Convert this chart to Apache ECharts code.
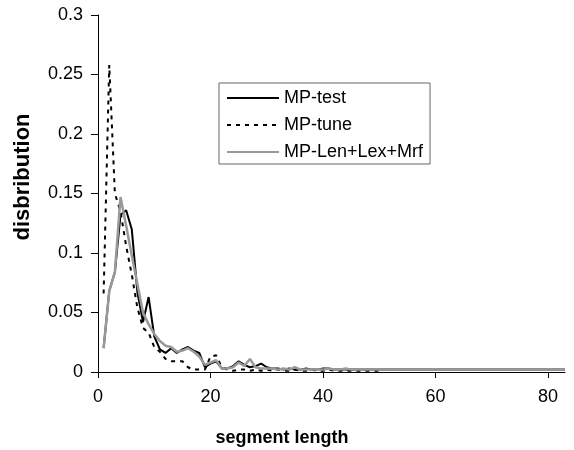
<!DOCTYPE html>
<html>
<head>
<meta charset="utf-8">
<script src="https://cdn.jsdelivr.net/npm/echarts@6/dist/echarts.min.js"></script>
<style>
html,body{margin:0;padding:0;background:#fff;}
#chart{width:574px;height:450px;}
</style>
</head>
<body>
<div id="chart"></div>
<script>
var segmentLength = [1,2,3,4,5,6,7,8,9,10,11,12,13,14,15,16,17,18,19,20,
  21,22,23,24,25,26,27,28,29,30,31,32,33,34,35,36,37,38,39,40,
  41,42,43,44,45,46,47,48,49,50,51,52,53,54,55,56,57,58,59,60,
  61,62,63,64,65,66,67,68,69,70,71,72,73,74,75,76,77,78,79,80,81,82,83];

var mpTest = [0.020,0.068,0.084,0.132,0.136,0.120,0.067,0.042,0.063,0.030,
  0.019,0.016,0.020,0.016,0.019,0.021,0.018,0.016,0.004,0.007,
  0.009,0.003,0.003,0.005,0.009,0.006,0.004,0.005,0.007,0.004,
  0.003,0.003,0.002,0.003,0.002,0.002,0.003,0.002,0.002,0.003,
  0.003,0.002,0.002,0.002,0.002,0.002,0.002,0.002,0.002,0.002,
  0.002,0.002,0.002,0.002,0.002,0.002,0.002,0.002,0.002,0.002,
  0.002,0.002,0.002,0.002,0.002,0.002,0.002,0.002,0.002,0.002,
  0.002,0.002,0.002,0.002,0.002,0.002,0.002,0.002,0.002,0.002,
  0.002,0.002,0.002];

var mpTune = [0.066,0.258,0.150,0.135,0.106,0.082,0.054,0.037,0.033,0.021,
  0.017,0.011,0.009,0.009,0.009,0.004,0.002,0.002,0.002,0.013,
  0.014,0.004,0.002,0.001,0.002,0.002,0.001,0.002,0.001,0.002,
  0.001,0.002,0.001,0.001,0.002,0.001,0.001,0.002,0.001,0.001,
  0.002,0.001,0.001,0.001,0.001,0.001,0.001,0.001,0.001,0.001];

var mpLen = [0.020,0.068,0.084,0.147,0.123,0.098,0.074,0.050,0.040,0.032,
  0.026,0.022,0.021,0.017,0.018,0.020,0.017,0.013,0.006,0.008,
  0.010,0.003,0.003,0.004,0.008,0.005,0.011,0.004,0.003,0.003,
  0.003,0.002,0.003,0.002,0.004,0.002,0.002,0.002,0.002,0.002,
  0.003,0.002,0.002,0.003,0.002,0.002,0.002,0.002,0.002,0.002,
  0.002,0.002,0.002,0.002,0.002,0.002,0.002,0.002,0.002,0.002,
  0.002,0.002,0.002,0.002,0.002,0.002,0.002,0.002,0.002,0.002,
  0.002,0.002,0.002,0.002,0.002,0.002,0.002,0.002,0.002,0.002,
  0.002,0.002,0.002];

var xTicks = [0,20,40,60,80];
var seriesNames = ['MP-test','MP-tune','MP-Len+Lex+Mrf'];
var xTitle = 'segment length';
var yTitle = 'disbribution';

function pairs(vals){
  var out = [];
  for (var i = 0; i < vals.length; i++) out.push([segmentLength[i], vals[i]]);
  return out;
}

var FONT = '"Liberation Sans", Arial, sans-serif';
var chart = echarts.init(document.getElementById('chart'), null, {renderer:'canvas'});
chart.setOption({
  animation:false,
  backgroundColor:'#fff',
  grid:{left:98, right:9, top:15, bottom:78, outerBoundsMode:'none', containLabel:false},
  xAxis:{
    type:'value', min:0, max:83,
    axisLine:{show:true, lineStyle:{color:'#000', width:1}},
    axisTick:{show:true, length:6, inside:false, customValues:xTicks, lineStyle:{color:'#000'}},
    axisLabel:{customValues:xTicks, color:'#000', fontSize:18, fontFamily:FONT, margin:16},
    splitLine:{show:false}
  },
  yAxis:{
    type:'value', min:0, max:0.3, interval:0.05,
    axisLine:{show:true, lineStyle:{color:'#000', width:1}},
    axisTick:{show:true, length:7, lineStyle:{color:'#000'}},
    axisLabel:{color:'#000', fontSize:18, fontFamily:FONT, margin:15},
    splitLine:{show:false}
  },
  legend:{
    orient:'vertical', left:219, top:83,
    data:seriesNames,
    itemWidth:52, itemHeight:14, itemGap:9,
    padding:[6,7,3,7],
    borderColor:'#666', borderWidth:1,
    backgroundColor:'#fff',
    itemStyle:{opacity:0},
    textStyle:{color:'#000', fontSize:18, fontFamily:FONT}
  },
  graphic:[
    {type:'text', x:282, y:438, style:{text:xTitle, font:'bold 18px ' + FONT, fill:'#000', textAlign:'center', textVerticalAlign:'middle'}},
    {type:'text', x:23, y:177, rotation:Math.PI/2, style:{text:yTitle, font:'bold 22px ' + FONT, fill:'#000', textAlign:'center', textVerticalAlign:'middle'}}
  ],
  series:[
    {name:seriesNames[0], type:'line', data:pairs(mpTest), symbol:'none', z:2,
     lineStyle:{color:'#000', width:2}, itemStyle:{color:'#000'}},
    {name:seriesNames[1], type:'line', data:pairs(mpTune), symbol:'none', z:3,
     lineStyle:{color:'#000', width:2, type:[4,5]}, itemStyle:{color:'#000'}},
    {name:seriesNames[2], type:'line', data:pairs(mpLen), symbol:'none', z:4,
     lineStyle:{color:'#999', width:2.5}, itemStyle:{color:'#999'}}
  ]
});
</script>
</body>
</html>
